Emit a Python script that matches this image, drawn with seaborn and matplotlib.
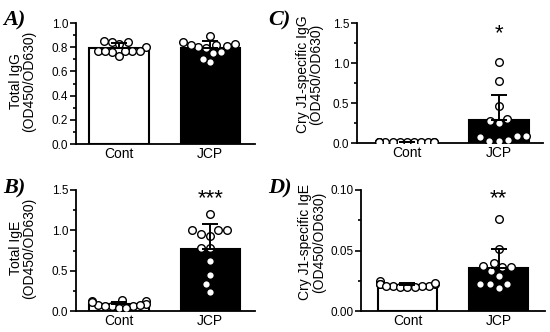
import numpy as np
import pandas as pd
import matplotlib
matplotlib.use("Agg")
import matplotlib.pyplot as plt
import seaborn as sns
from matplotlib.ticker import MultipleLocator

sns.set_theme(style="ticks")
plt.rcParams['font.family'] = ['Liberation Sans', 'DejaVu Sans']

groups = ["Cont", "JCP"]

igg_cont = [0.84, 0.85, 0.77, 0.83, 0.77, 0.76, 0.80, 0.77, 0.73, 0.77, 0.84, 0.77]
igg_jcp = [0.80, 0.82, 0.83, 0.89, 0.76, 0.81, 0.75, 0.68, 0.70, 0.79, 0.82, 0.84]

ige_cont = [0.06, 0.12, 0.07, 0.11, 0.13, 0.06, 0.09, 0.04, 0.07, 0.14, 0.04, 0.06]
ige_jcp = [1.00, 0.95, 1.00, 1.20, 1.00, 0.93, 0.78, 0.78, 0.62, 0.45, 0.34, 0.24]

cry_igg_cont = [0.01, 0.01, 0.01, 0.01, 0.01, 0.01, 0.01, 0.01, 0.01, 0.01, 0.01, 0.01]
cry_igg_jcp = [0.02, 0.30, 0.09, 0.25, 0.03, 0.46, 0.77, 1.01, 0.09, 0.28, 0.07, 0.04]

cry_ige_cont = [0.021, 0.025, 0.022, 0.021, 0.023, 0.020, 0.022, 0.020, 0.021, 0.020, 0.022, 0.021]
cry_ige_jcp = [0.040, 0.029, 0.019, 0.036, 0.051, 0.076, 0.037, 0.022, 0.022, 0.036, 0.022, 0.033]

panels = [
    dict(letter="A)", cont=igg_cont, jcp=igg_jcp, ylabel="Total IgG\n(OD450/OD630)",
         ylim=(0, 1.0), major=0.2, minor=0.1, fmt="{:.1f}", star=None, star_y=None,
         px=(76, 255, 23, 144), xlim=(-0.47, 1.49), lx=-0.22, ly=0.52),
    dict(letter="B)", cont=ige_cont, jcp=ige_jcp, ylabel="Total IgE\n(OD450/OD630)",
         ylim=(0, 1.5), major=0.5, minor=0.25, fmt="{:.1f}", star="***", star_y=1.32,
         px=(76, 255, 190, 311), xlim=(-0.47, 1.49), lx=-0.22, ly=0.52),
    dict(letter="C)", cont=cry_igg_cont, jcp=cry_igg_jcp, ylabel="Cry J1-specific IgG\n(OD450/OD630)",
         ylim=(0, 1.5), major=0.5, minor=0.25, fmt="{:.1f}", star="*", star_y=1.30,
         px=(357, 543, 23, 143), xlim=(-0.54, 1.48), lx=-0.18, ly=0.57),
    dict(letter="D)", cont=cry_ige_cont, jcp=cry_ige_jcp, ylabel="Cry J1-specific IgE\n(OD450/OD630)",
         ylim=(0, 0.10), major=0.05, minor=0.025, fmt="{:.2f}", star="**", star_y=0.088,
         px=(361, 545, 190, 311), xlim=(-0.51, 1.51), lx=-0.19, ly=0.57),
]

W, H = 550, 332
fig = plt.figure(figsize=(5.5, 3.32), dpi=100)
swarms = []

for p in panels:
    l, r, t, b = p["px"]
    ax = fig.add_axes([l / W, 1 - b / H, (r - l) / W, (b - t) / H])
    df = pd.DataFrame({
        "group": ["Cont"] * len(p["cont"]) + ["JCP"] * len(p["jcp"]),
        "value": list(p["cont"]) + list(p["jcp"]),
    })
    sns.barplot(data=df, x="group", y="value", hue="group", order=groups,
                palette={"Cont": "white", "JCP": "black"}, errorbar=None,
                width=0.65, edgecolor="black", linewidth=1.5, legend=False, ax=ax,
                zorder=1)
    n_before = len(ax.collections)
    sns.swarmplot(data=df, x="group", y="value", order=groups, color="white",
                  edgecolor="black", linewidth=1.0, size=5.5, ax=ax, zorder=3,
                  warn_thresh=1.0)
    swarms.extend(ax.collections[n_before:])
    for i, vals in enumerate([p["cont"], p["jcp"]]):
        m = np.mean(vals)
        sd = np.std(vals, ddof=1)
        ax.errorbar([i], [m], yerr=[[0], [sd]], fmt="none", ecolor="black",
                    elinewidth=1.4, capsize=6, capthick=1.4, zorder=4)
    ax.set_xlim(*p["xlim"])
    ax.set_ylim(*p["ylim"])
    ax.yaxis.set_major_locator(MultipleLocator(p["major"]))
    ax.yaxis.set_minor_locator(MultipleLocator(p["minor"]))
    ax.yaxis.set_major_formatter(matplotlib.ticker.FuncFormatter(lambda v, pos, f=p["fmt"]: f.format(v)))
    ax.tick_params(axis="y", which="major", length=4, width=1.2, labelsize=8.5, pad=1.5, color="black", labelcolor="black")
    ax.tick_params(axis="y", which="minor", length=2.5, width=1.2, color="black")
    ax.tick_params(axis="x", length=0, labelsize=10, pad=2, labelcolor="black")
    for s in ["top", "right"]:
        ax.spines[s].set_visible(False)
    for s in ["left", "bottom"]:
        ax.spines[s].set_linewidth(1.3)
        ax.spines[s].set_color("black")
    ax.set_xlabel("")
    ax.set_ylabel(p["ylabel"], fontsize=10, linespacing=1.0, color="black")
    ax.yaxis.set_label_coords(p["lx"], p["ly"])
    ax.set_facecolor("none")
    if p["star"]:
        ax.text(1, p["star_y"], p["star"], ha="center", va="baseline", fontsize=16, color="black")
    fig.text((3 if p["letter"] in ("A)", "B)") else 268) / W,
             1 - (25 if p["letter"] in ("A)", "C)") else 193) / H,
             p["letter"], fontsize=16, fontweight="bold", fontstyle="italic",
             family="Liberation Serif", ha="left", va="baseline", color="black")

# let seaborn compute the swarm layout, then keep it inside the bar width
fig.canvas.draw()
for coll in swarms:
    off = np.array(coll.get_offsets())
    if "draw" in coll.__dict__:
        del coll.__dict__["draw"]
    if len(off) == 0:
        continue
    centers = np.round(off[:, 0])
    for c in np.unique(centers):
        m = centers == c
        dx = off[m, 0] - c
        mx = np.max(np.abs(dx))
        if mx > 0.3:
            off[m, 0] = c + dx * 0.3 / mx
    coll.set_offsets(off)

fig.savefig("out.png", dpi=100)
